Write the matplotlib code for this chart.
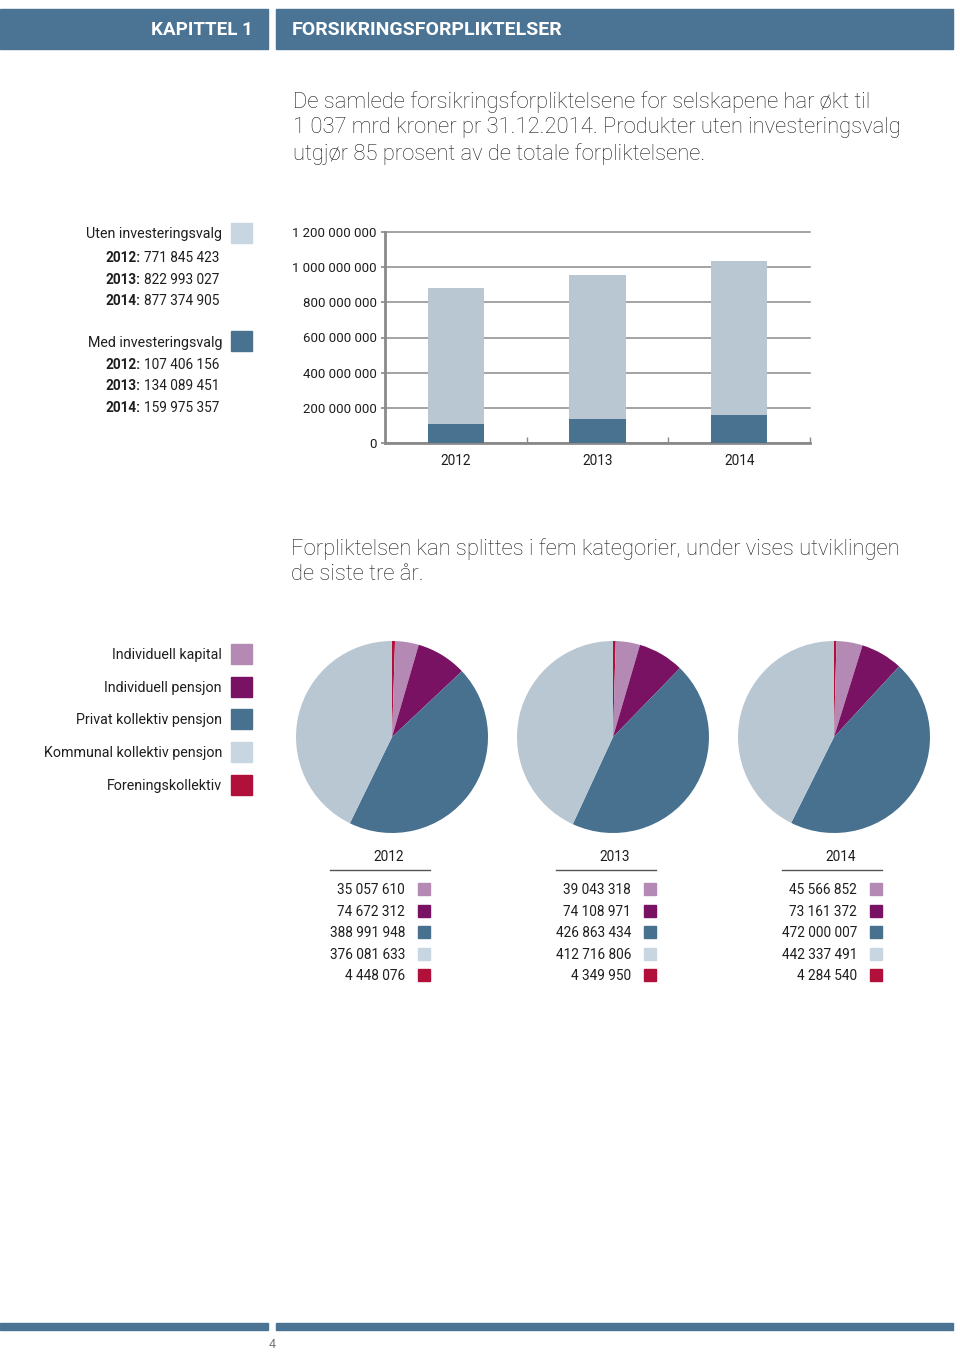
import numpy as np
import matplotlib.pyplot as plt
from matplotlib.patches import Rectangle
from matplotlib.ticker import FuncFormatter

plt.rcParams['font.family'] = ['Roboto', 'DejaVu Sans']

# Data
years = ['2012', '2013', '2014']
uten = [771845423, 822993027, 877374905]
med = [107406156, 134089451, 159975357]

categories = ['Individuell kapital', 'Individuell pensjon', 'Privat kollektiv pensjon',
              'Kommunal kollektiv pensjon', 'Foreningskollektiv']
ind_kapital = [35057610, 39043318, 45566852]
ind_pensjon = [74672312, 74108971, 73161372]
privat = [388991948, 426863434, 472000007]
kommunal = [376081633, 412716806, 442337491]
forening = [4448076, 4349950, 4284540]

# Colours
header_col = '#4a7394'
light_bar = '#b9c7d3'
dark_bar = '#48728f'
cat_colors = ['#b48ab5', '#7a1264', '#48718f', '#b9c7d3', '#b0103a']
legend_colors = ['#b48ab5', '#7a1264', '#48718f', '#c8d6e2', '#b0103a']
txt = '#1e1e1e'


def fmt(v):
    return f'{int(v):,}'.replace(',', ' ')


W, H = 960, 1352
fig = plt.figure(figsize=(W / 100, H / 100), dpi=100)

# background axes in pixel coordinates
bg = fig.add_axes([0, 0, 1, 1])
bg.set_xlim(0, W)
bg.set_ylim(H, 0)
bg.axis('off')

# header
bg.add_patch(Rectangle((0, 9), 268, 40, color=header_col))
bg.add_patch(Rectangle((276, 9), 677, 40, color=header_col))
bg.text(253, 30, 'KAPITTEL 1', color='white', fontsize=13.5, fontweight='bold',
        ha='right', va='center')
bg.text(292, 30, 'FORSIKRINGSFORPLIKTELSER', color='white', fontsize=14,
        fontweight='bold', ha='left', va='center')

# intro text
intro = ['De samlede forsikringsforpliktelsene for selskapene har økt til',
         '1 037 mrd kroner pr 31.12.2014. Produkter uten investeringsvalg',
         'utgjør 85 prosent av de totale forpliktelsene.']
for i, line in enumerate(intro):
    bg.text(293, 102 + 26 * i, line, fontsize=15.8, fontweight='light', color=txt,
            ha='left', va='center')

# bar legend
def year_line(y, year, value):
    t = bg.text(219, y, fmt(value), fontsize=9.8, color=txt, ha='right', va='center')
    bg.annotate(year + ':', xy=(0, 0.5), xycoords=t, xytext=(-2, 0),
                textcoords='offset points', fontsize=9.8, fontweight='bold',
                color=txt, ha='right', va='center')

bg.text(222, 234, 'Uten investeringsvalg', fontsize=10.3, color=txt, ha='right', va='center')
bg.add_patch(Rectangle((231, 223), 21, 20, color='#c8d6e2'))
for i, yr in enumerate(years):
    year_line(258 + 21.5 * i, yr, uten[i])
bg.text(222, 343, 'Med investeringsvalg', fontsize=10.3, color=txt, ha='right', va='center')
bg.add_patch(Rectangle((231, 331), 21, 20, color=dark_bar))
for i, yr in enumerate(years):
    year_line(365 + 21.5 * i, yr, med[i])

# bar chart
ax = fig.add_axes([385 / W, 1 - 443 / H, 425 / W, 211 / H])
x = np.arange(len(years))
ax.bar(x, med, width=0.4, color=dark_bar, zorder=3)
ax.bar(x, uten, bottom=med, width=0.4, color=light_bar, zorder=3)
ax.set_xlim(-0.5, 2.5)
ax.set_ylim(0, 1.2e9)
ax.set_yticks(np.arange(0, 1.2e9 + 1, 2e8))
ax.yaxis.set_major_formatter(FuncFormatter(lambda v, p: fmt(v)))
ax.set_xticks(x)
ax.set_xticklabels(years)
ax.set_xticks([0.5, 1.5, 2.5], minor=True)
ax.tick_params(axis='x', which='major', length=0, pad=8, labelsize=9.8, labelcolor=txt)
ax.tick_params(axis='x', which='minor', direction='in', length=4, width=1, color='#888888')
ax.tick_params(axis='y', length=3, width=1.2, color='#888888', pad=3, labelsize=9.5,
               labelcolor=txt)
ax.grid(axis='y', color='#8a8a8a', linewidth=1.1, zorder=0)
for s in ['top', 'right']:
    ax.spines[s].set_visible(False)
for s in ['left', 'bottom']:
    ax.spines[s].set_color('#8a8a8a')
    ax.spines[s].set_linewidth(2)
ax.set_axisbelow(True)
for gl in ax.get_ygridlines():
    gl.set_clip_on(False)

# second text
bg.text(291, 549, 'Forpliktelsen kan splittes i fem kategorier, under vises utviklingen',
        fontsize=15.8, fontweight='light', color=txt, ha='left', va='center')
bg.text(291, 575, 'de siste tre år.', fontsize=15.8, fontweight='light', color=txt,
        ha='left', va='center')

# pie legend
for i, cat in enumerate(categories):
    y = 654 + 32.7 * i
    bg.text(222, y + 1, cat, fontsize=10.3, color=txt, ha='right', va='center')
    bg.add_patch(Rectangle((231, y - 10), 21, 20, color=legend_colors[i]))

# pies + tables
centers = [392, 613, 834]
for j, cx in enumerate(centers):
    vals = [forening[j], ind_kapital[j], ind_pensjon[j], privat[j], kommunal[j]]
    cols = [cat_colors[4], cat_colors[0], cat_colors[1], cat_colors[2], cat_colors[3]]
    pax = fig.add_axes([(cx - 100) / W, 1 - (737 + 100) / H, 200 / W, 200 / H])
    pax.pie(vals, colors=cols, startangle=90, counterclock=False, radius=0.96,
            wedgeprops=dict(linewidth=0))
    pax.set_xlim(-1, 1)
    pax.set_ylim(-1, 1)
    pax.set_aspect('equal')
    pax.axis('off')

    right = 405 + 226 * j
    bg.text(right - 16, 857, years[j], fontsize=9.8, color=txt, ha='center', va='center')
    bg.plot([right - 75, right + 25], [870, 870], color='#555555', lw=1)
    col_vals = [ind_kapital[j], ind_pensjon[j], privat[j], kommunal[j], forening[j]]
    for i, v in enumerate(col_vals):
        y = 889 + 21.6 * i
        bg.text(right, y + 1, fmt(v), fontsize=9.8, color=txt, ha='right', va='center')
        bg.add_patch(Rectangle((right + 13, y - 6), 12, 12, color=legend_colors[i]))

# footer
bg.add_patch(Rectangle((0, 1323), 268, 7, color=header_col))
bg.add_patch(Rectangle((276, 1323), 677, 7, color=header_col))
bg.text(272, 1344, '4', fontsize=9, color='#777777', ha='center', va='center')

fig.savefig('out.png', dpi=100)
